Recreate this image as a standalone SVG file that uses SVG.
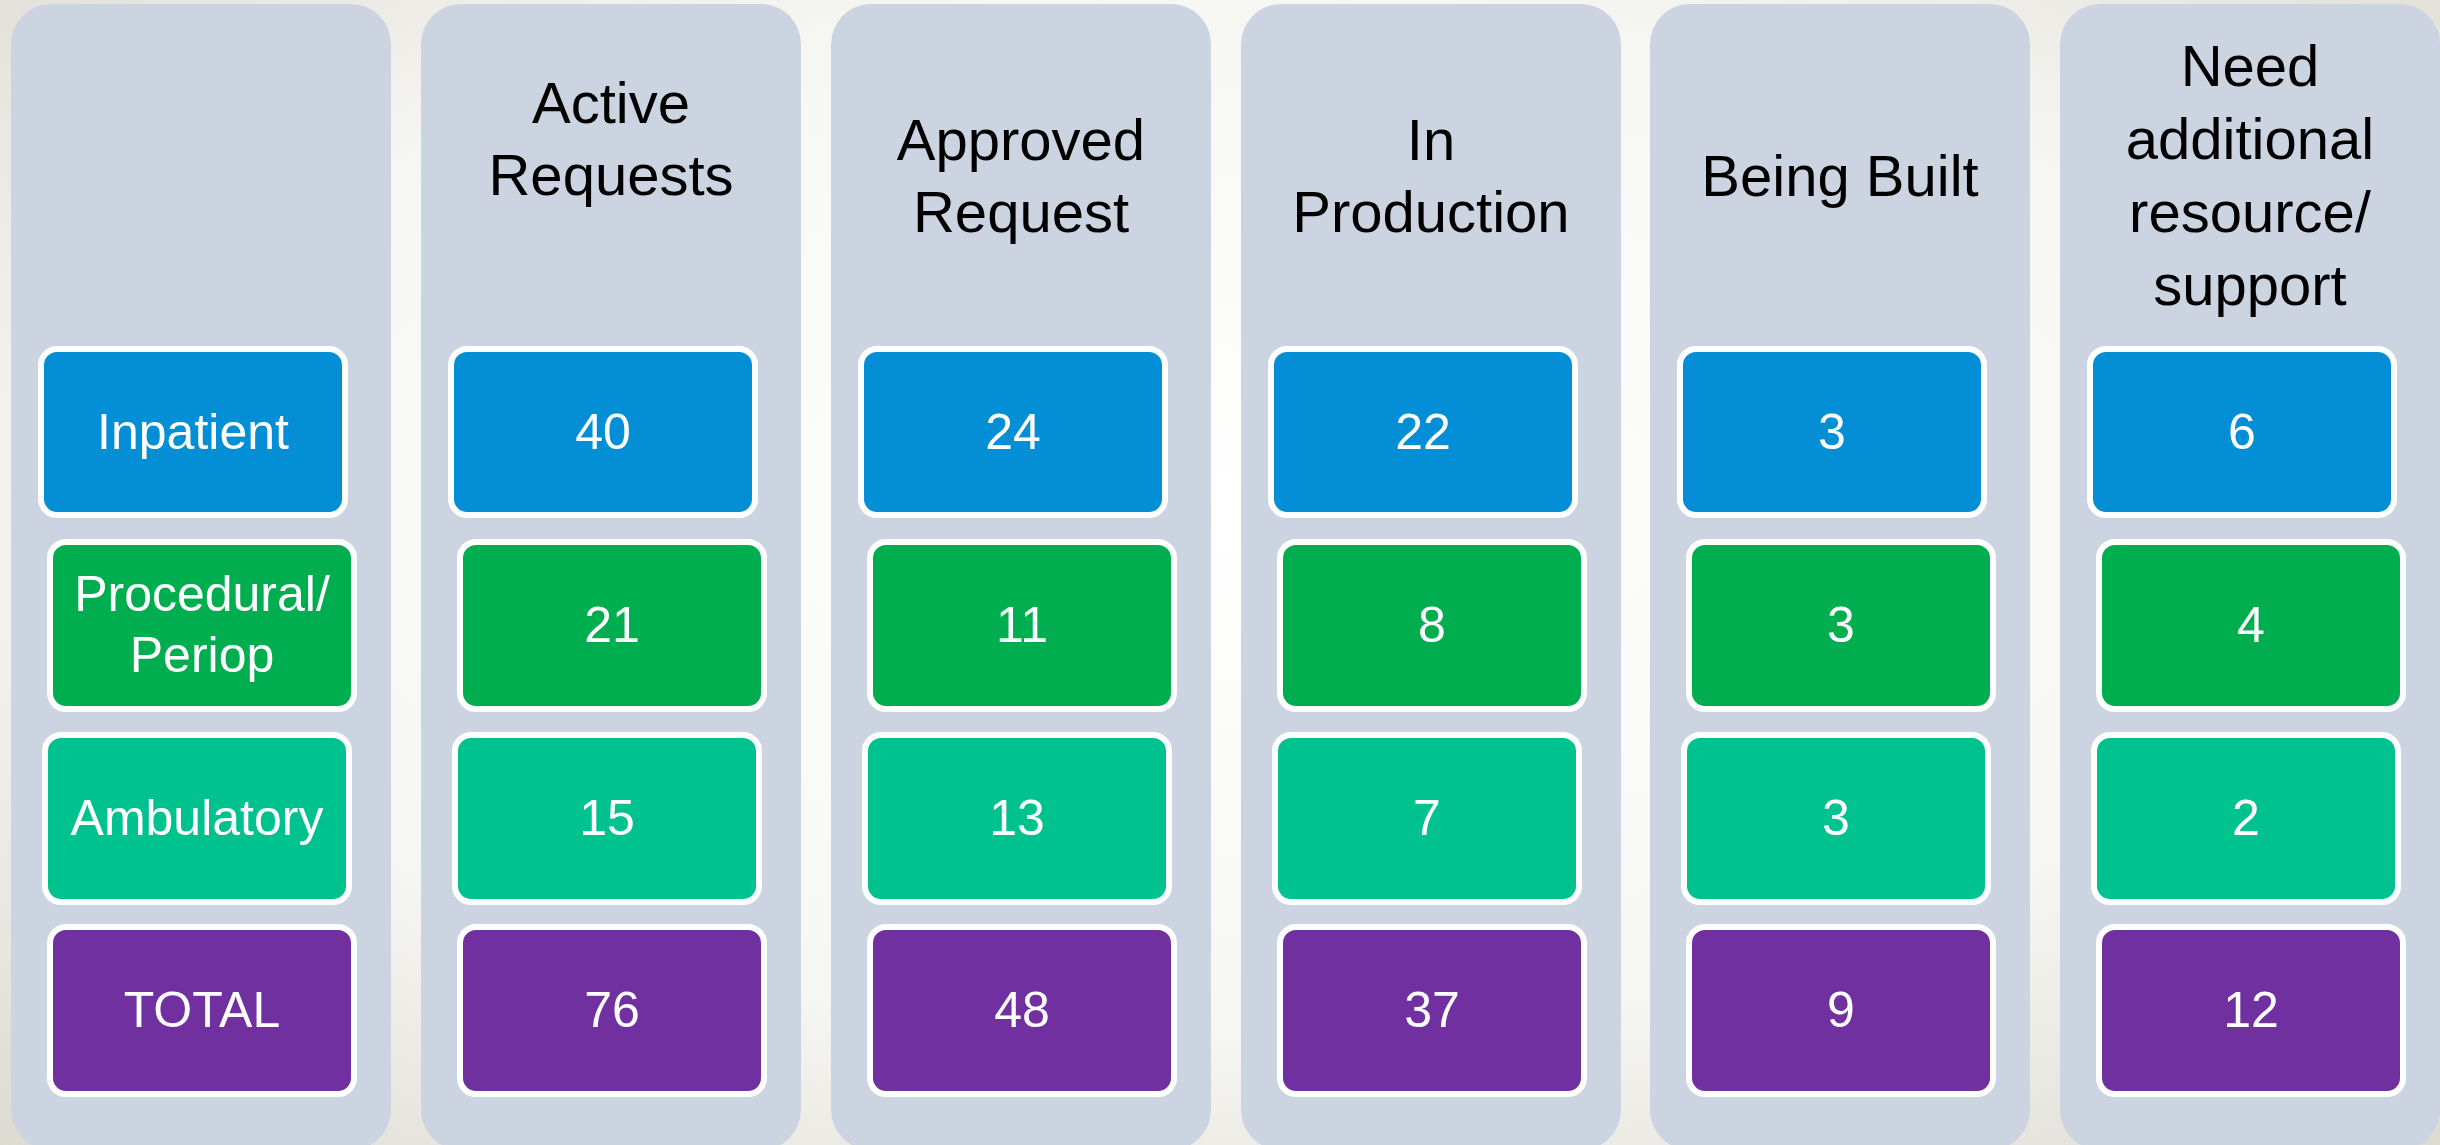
<svg xmlns="http://www.w3.org/2000/svg" width="2440" height="1145" viewBox="0 0 2440 1145">
<defs>
<radialGradient id="bg" cx="50%" cy="45%" r="75%">
<stop offset="0" stop-color="#ffffff"/>
<stop offset="0.6" stop-color="#f6f6f3"/>
<stop offset="1" stop-color="#dcd9d0"/>
</radialGradient>
<style>
.col{fill:#CDD4E1}
.box{stroke:#ffffff;stroke-width:6}
.b1{fill:#038ED6}
.b2{fill:#00AE4F}
.b3{fill:#00C28F}
.b4{fill:#7030A0}
.hd{font-family:"Liberation Sans",Arial,sans-serif;font-size:58px;fill:#000000;text-anchor:middle}
.tx{font-family:"Liberation Sans",Arial,sans-serif;font-size:50px;fill:#ffffff;text-anchor:middle}
</style>
</defs>
<rect x="0" y="0" width="2440" height="1145" fill="url(#bg)"/>

<g id="col-labels">
<rect class="col" x="11" y="4" width="380" height="1146" rx="40"/>
<g id="lbl-inpatient"><rect class="box b1" x="41" y="349" width="304" height="166" rx="16"/><text class="tx" x="193" y="449">Inpatient</text></g>
<g id="lbl-procedural"><rect class="box b2" x="50" y="542" width="304" height="167" rx="16"/><text class="tx" x="202" y="611">Procedural/</text><text class="tx" x="202" y="672">Periop</text></g>
<g id="lbl-ambulatory"><rect class="box b3" x="45" y="735" width="304" height="167" rx="16"/><text class="tx" x="197" y="835">Ambulatory</text></g>
<g id="lbl-total"><rect class="box b4" x="50" y="927" width="304" height="167" rx="16"/><text class="tx" x="202" y="1027">TOTAL</text></g>
</g>

<g id="col-active">
<rect class="col" x="421" y="4" width="380" height="1146" rx="40"/>
<text class="hd" x="611" y="123">Active</text><text class="hd" x="611" y="195">Requests</text>
<g id="active-inpatient"><rect class="box b1" x="451" y="349" width="304" height="166" rx="16"/><text class="tx" x="603" y="449">40</text></g>
<g id="active-procedural"><rect class="box b2" x="460" y="542" width="304" height="167" rx="16"/><text class="tx" x="612" y="642">21</text></g>
<g id="active-ambulatory"><rect class="box b3" x="455" y="735" width="304" height="167" rx="16"/><text class="tx" x="607" y="835">15</text></g>
<g id="active-total"><rect class="box b4" x="460" y="927" width="304" height="167" rx="16"/><text class="tx" x="612" y="1027">76</text></g>
</g>

<g id="col-approved">
<rect class="col" x="831" y="4" width="380" height="1146" rx="40"/>
<text class="hd" x="1021" y="160">Approved</text><text class="hd" x="1021" y="232">Request</text>
<g id="approved-inpatient"><rect class="box b1" x="861" y="349" width="304" height="166" rx="16"/><text class="tx" x="1013" y="449">24</text></g>
<g id="approved-procedural"><rect class="box b2" x="870" y="542" width="304" height="167" rx="16"/><text class="tx" x="1022" y="642">11</text></g>
<g id="approved-ambulatory"><rect class="box b3" x="865" y="735" width="304" height="167" rx="16"/><text class="tx" x="1017" y="835">13</text></g>
<g id="approved-total"><rect class="box b4" x="870" y="927" width="304" height="167" rx="16"/><text class="tx" x="1022" y="1027">48</text></g>
</g>

<g id="col-production">
<rect class="col" x="1241" y="4" width="380" height="1146" rx="40"/>
<text class="hd" x="1431" y="160">In</text><text class="hd" x="1431" y="232">Production</text>
<g id="production-inpatient"><rect class="box b1" x="1271" y="349" width="304" height="166" rx="16"/><text class="tx" x="1423" y="449">22</text></g>
<g id="production-procedural"><rect class="box b2" x="1280" y="542" width="304" height="167" rx="16"/><text class="tx" x="1432" y="642">8</text></g>
<g id="production-ambulatory"><rect class="box b3" x="1275" y="735" width="304" height="167" rx="16"/><text class="tx" x="1427" y="835">7</text></g>
<g id="production-total"><rect class="box b4" x="1280" y="927" width="304" height="167" rx="16"/><text class="tx" x="1432" y="1027">37</text></g>
</g>

<g id="col-built">
<rect class="col" x="1650" y="4" width="380" height="1146" rx="40"/>
<text class="hd" x="1840" y="196">Being Built</text>
<g id="built-inpatient"><rect class="box b1" x="1680" y="349" width="304" height="166" rx="16"/><text class="tx" x="1832" y="449">3</text></g>
<g id="built-procedural"><rect class="box b2" x="1689" y="542" width="304" height="167" rx="16"/><text class="tx" x="1841" y="642">3</text></g>
<g id="built-ambulatory"><rect class="box b3" x="1684" y="735" width="304" height="167" rx="16"/><text class="tx" x="1836" y="835">3</text></g>
<g id="built-total"><rect class="box b4" x="1689" y="927" width="304" height="167" rx="16"/><text class="tx" x="1841" y="1027">9</text></g>
</g>

<g id="col-need">
<rect class="col" x="2060" y="4" width="380" height="1146" rx="40"/>
<text class="hd" x="2250" y="86">Need</text><text class="hd" x="2250" y="159">additional</text><text class="hd" x="2250" y="232">resource/</text><text class="hd" x="2250" y="305">support</text>
<g id="need-inpatient"><rect class="box b1" x="2090" y="349" width="304" height="166" rx="16"/><text class="tx" x="2242" y="449">6</text></g>
<g id="need-procedural"><rect class="box b2" x="2099" y="542" width="304" height="167" rx="16"/><text class="tx" x="2251" y="642">4</text></g>
<g id="need-ambulatory"><rect class="box b3" x="2094" y="735" width="304" height="167" rx="16"/><text class="tx" x="2246" y="835">2</text></g>
<g id="need-total"><rect class="box b4" x="2099" y="927" width="304" height="167" rx="16"/><text class="tx" x="2251" y="1027">12</text></g>
</g>

<g id="connectors"></g>
</svg>
